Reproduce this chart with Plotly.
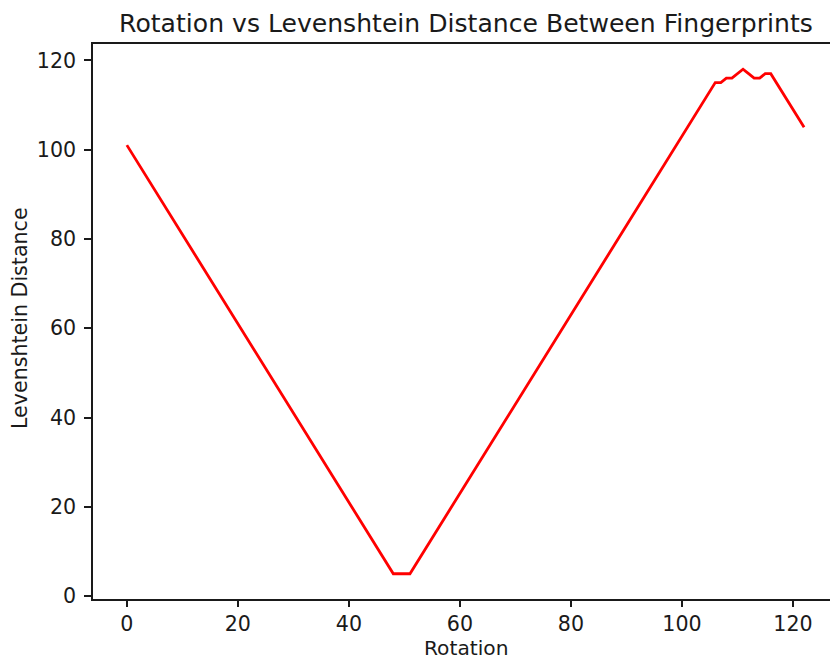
import plotly.graph_objects as go

# Data (vertices of the polyline)
rotation = [0, 48, 51, 106, 107, 108, 109, 110, 111, 112, 113, 114, 115, 116, 122]
distance = [101, 5, 5, 115, 115, 116, 116, 117, 118, 117, 116, 116, 117, 117, 105]
x_ticks = [0, 20, 40, 60, 80, 100, 120]
y_ticks = [0, 20, 40, 60, 80, 100, 120]

title_text = "Rotation vs Levenshtein Distance Between Fingerprints"
x_label = "Rotation"
y_label = "Levenshtein Distance"

FONT = "DejaVu Sans"
INK = "#1a1a1a"
TICK_SIZE = 20.6
LABEL_SIZE = 20.2
TITLE_SIZE = 25.1

fig = go.Figure()
fig.add_trace(go.Scatter(
    x=rotation, y=distance, mode="lines",
    line=dict(color="red", width=2.8),
    showlegend=False, hoverinfo="skip",
))

fig.update_layout(
    width=830, height=661,
    margin=dict(l=93, r=0, t=44, b=62),
    paper_bgcolor="white", plot_bgcolor="white",
    font=dict(family=FONT, size=TICK_SIZE, color=INK),
    title=dict(text=title_text, x=466 / 830, xanchor="center",
               y=1 - 23 / 661, yanchor="middle", yref="container",
               font=dict(family=FONT, size=TITLE_SIZE, color=INK)),
    xaxis=dict(range=[-6.1, 126.67], tickvals=x_ticks, ticks="outside",
               ticklen=6, tickwidth=1.5, tickcolor=INK, showgrid=False,
               zeroline=False, showline=True, linecolor=INK, linewidth=1.5,
               mirror=True, ticklabelstandoff=0,
               tickfont=dict(family=FONT, size=TICK_SIZE, color=INK)),
    yaxis=dict(range=[-0.65, 123.65], tickvals=y_ticks, ticks="outside",
               ticklen=7, tickwidth=1.5, tickcolor=INK, showgrid=False,
               zeroline=False, showline=True, linecolor=INK, linewidth=1.5,
               mirror=False, ticklabelstandoff=4,
               tickfont=dict(family=FONT, size=TICK_SIZE, color=INK)),
    annotations=[
        dict(text=x_label, xref="paper", yref="paper", x=(466 - 93) / 737,
             y=-(661 - 599) / 555, xanchor="center", yanchor="bottom",
             borderpad=0, showarrow=False,
             font=dict(family=FONT, size=LABEL_SIZE, color=INK)),
        dict(text=y_label, xref="paper", yref="paper", x=-(93 - 20) / 737,
             y=(599 - 318) / 555, xanchor="center", yanchor="middle",
             textangle=-90, borderpad=0, showarrow=False,
             font=dict(family=FONT, size=TICK_SIZE, color=INK)),
    ],
)

fig.write_html("out.html")
